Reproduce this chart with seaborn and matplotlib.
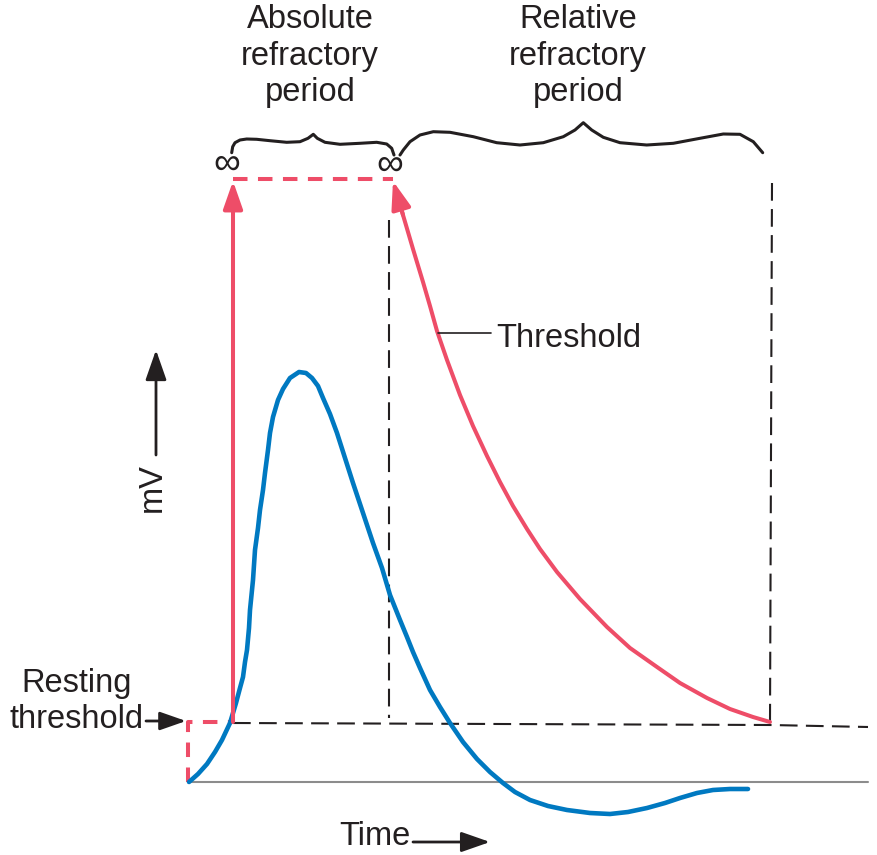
import matplotlib
matplotlib.use("Agg")
import matplotlib.pyplot as plt
import seaborn as sns

# ---------------- data (in diagram units) ----------------
# Action potential (blue): time, membrane potential (diagram y, downward positive)
ap_time = [189, 198, 207, 215, 222, 230, 236, 240, 243, 245, 247, 249, 250, 253, 255,
           258, 260, 263, 265, 268, 270, 273, 278, 283, 290, 299, 306, 312, 318, 323,
           330, 337, 345, 353, 363, 373, 382, 390, 400, 407, 413, 420, 430, 440, 450,
           463, 477, 490, 503, 515, 530, 548, 567, 590, 610, 628, 647, 665, 680, 697,
           713, 730, 748]
ap_mv = [782, 774, 764, 752, 740, 723, 703, 688, 677, 662, 650, 628, 610, 580, 550,
         528, 510, 490, 473, 450, 433, 417, 400, 389, 378, 372, 373, 378, 386, 398,
         414, 433, 458, 483, 513, 543, 568, 595, 620, 637, 652, 668, 690, 707, 723,
         742, 759, 772, 783, 792, 800, 806, 810, 813, 814, 812, 808, 803, 798, 793,
         790, 789, 789]

# Threshold during the relative refractory period (red)
thr_time = [396, 403, 413, 423, 430, 437, 447, 460, 473, 487, 500, 513, 527, 540, 557,
            580, 607, 630, 657, 680, 707, 730, 753, 770]
thr_mv = [190, 215, 249, 282, 306, 331, 360, 395, 426, 456, 482, 506, 529, 549, 572,
          599, 627, 648, 667, 683, 698, 709, 717, 722]

# Braces over the two periods
brace1_x = [231.7, 232.7, 235, 240, 246.7, 256.7, 270, 286.7, 300, 308, 313.3, 317.3,
            325, 340, 360, 376.7, 386.7, 391.7, 394]
brace1_y = [152.7, 146.7, 142.7, 140, 139, 139.3, 140.7, 142.3, 141.7, 138.3, 134.3,
            138.3, 142.3, 144.3, 143.3, 142.3, 144, 148.3, 155]
brace2_x = [400, 403.3, 410, 420, 433.3, 450, 473.3, 496.7, 520, 543.3, 563.3, 575,
            583.3, 591.7, 603.3, 620, 646.7, 673.3, 700, 723.3, 740, 753.3, 762.7]
brace2_y = [155, 150, 141.7, 135, 131.7, 132.3, 136.7, 142.7, 145, 142.7, 136.7, 130,
            122.7, 130, 137.3, 142.7, 145, 143.3, 138.3, 134, 134.3, 141.7, 152.7]

# Key times and levels
t_start, t_stim, t_abs_end, t_rel_end, t_end = 188, 233, 389, 770, 868
v_rest, v_thr_rest, v_inf = 782, 722, 179

RED = "#EE4D68"
BLUE = "#0079C1"
INK = "#231F20"

# ---------------- figure ----------------
sns.set_style("white")
plt.rcParams["font.family"] = ["Liberation Sans", "DejaVu Sans"]

fig = plt.figure(figsize=(8.78, 8.55), dpi=100)
ax = fig.add_axes([0, 0, 1, 1])
ax.set_xlim(0, 878)
ax.set_ylim(855, 0)
ax.axis("off")

LP = dict(ax=ax, sort=False, estimator=None, errorbar=None, legend=False)
BLACK_DASH = (0, (8.5, 4))
RED_DASH = (0, (3.6, 2.6))

# baseline (resting potential)
sns.lineplot(x=[t_start, t_end], y=[v_rest, v_rest], color="#8C8C8C", linewidth=1.5, **LP)

# resting threshold dashed line
sns.lineplot(x=[t_stim, t_rel_end, t_end], y=[v_thr_rest + 1, v_thr_rest + 3, v_thr_rest + 5],
             color=INK, linewidth=1.5, linestyle=BLACK_DASH, **LP)

# vertical dashed period boundaries
sns.lineplot(x=[t_abs_end, t_abs_end], y=[220, 718], color=INK, linewidth=1.5,
             linestyle=BLACK_DASH, **LP)
sns.lineplot(x=[t_rel_end + 2, t_rel_end], y=[183, 722], color=INK, linewidth=1.5,
             linestyle=BLACK_DASH, **LP)

# red dashed: initial step and infinite threshold
sns.lineplot(x=[t_start, t_start, t_stim], y=[v_rest, v_thr_rest, v_thr_rest],
             color=RED, linewidth=2.9, linestyle=RED_DASH, **LP)
sns.lineplot(x=[t_stim, 393], y=[v_inf, v_inf], color=RED, linewidth=2.9,
             linestyle=RED_DASH, **LP)

ARROW = "-|>,head_length=0.8,head_width=0.28"

# red vertical arrow (threshold jumps to infinity)
ax.annotate("", xy=(t_stim, 181), xytext=(t_stim, v_thr_rest),
            arrowprops=dict(arrowstyle=ARROW, color=RED, lw=2.9, mutation_scale=21,
                            shrinkA=0, shrinkB=0))

# relative refractory threshold curve
sns.lineplot(x=thr_time, y=thr_mv, color=RED, linewidth=2.9, **LP)
ax.annotate("", xy=(393, 181), xytext=(thr_time[1], thr_mv[1]),
            arrowprops=dict(arrowstyle=ARROW, color=RED, lw=2.9, mutation_scale=21,
                            shrinkA=0, shrinkB=0))

# action potential
sns.lineplot(x=ap_time, y=ap_mv, color=BLUE, linewidth=3.3, **LP)

# braces
sns.lineplot(x=brace1_x, y=brace1_y, color=INK, linewidth=2.2, **LP)
sns.lineplot(x=brace2_x, y=brace2_y, color=INK, linewidth=2.2, **LP)
for line in ax.get_lines():
    line.set_solid_joinstyle("round")
    line.set_dash_capstyle("butt")

# infinity signs
ax.text(227, 164, "\u221e", fontsize=27, color=INK, ha="center", va="center")
ax.text(390, 165, "\u221e", fontsize=27, color=INK, ha="center", va="center")

FS = 23.5
# period labels
ax.text(310, 101, "Absolute\nrefractory\nperiod", fontsize=FS, color=INK, ha="center",
        va="baseline", linespacing=1.22)
ax.text(578, 101, "Relative\nrefractory\nperiod", fontsize=FS, color=INK, ha="center",
        va="baseline", linespacing=1.22)

# Threshold label
ax.text(496, 347, "Threshold", fontsize=FS, color=INK, ha="left", va="baseline")
ax.plot([438, 491], [333, 333], color=INK, lw=1.2)

# mV axis label and arrow
ax.text(152, 488, "mV", fontsize=FS, color=INK, rotation=90, ha="center", va="center")
ax.annotate("", xy=(156, 350), xytext=(156, 455),
            arrowprops=dict(arrowstyle=ARROW, color=INK, lw=2.0, mutation_scale=23,
                            shrinkA=0, shrinkB=0))

# Time label and arrow
ax.text(339, 845, "Time", fontsize=FS, color=INK, ha="left", va="baseline")
ax.annotate("", xy=(490, 842), xytext=(413, 842),
            arrowprops=dict(arrowstyle=ARROW, color=INK, lw=2.0, mutation_scale=22,
                            shrinkA=0, shrinkB=0))

# Resting threshold label and arrow
ax.text(77, 728, "Resting\nthreshold", fontsize=FS, color=INK, ha="center",
        va="baseline", linespacing=1.22)
ax.annotate("", xy=(186, 721), xytext=(146, 721),
            arrowprops=dict(arrowstyle=ARROW, color=INK, lw=2.0, mutation_scale=20,
                            shrinkA=0, shrinkB=0))

fig.savefig("out.png", dpi=100)
